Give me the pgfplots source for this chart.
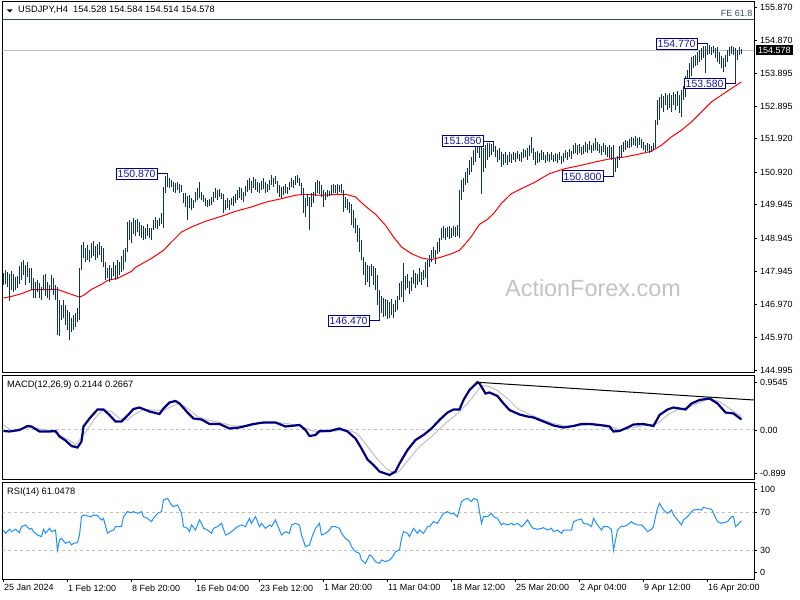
\documentclass[border=0pt]{standalone}
\usepackage{fontspec}
\setmainfont{Liberation Sans}
\usepackage{pgfplots}
\usepackage{pgfplotstable}
\pgfplotsset{compat=1.18}

\definecolor{barc}{RGB}{14,52,80}
\definecolor{navyb}{RGB}{0,0,128}
\definecolor{lbl}{RGB}{25,25,160}
\definecolor{dodger}{RGB}{30,144,255}
\definecolor{silverc}{RGB}{192,192,192}
\definecolor{fec}{RGB}{47,79,79}
\definecolor{wm}{RGB}{195,195,195}

\newcommand\lab{\fontsize{9}{10}\selectfont}

% high / low of each H4 bar
\pgfplotstableread[row sep=\\]{
h l\\
147.89 147.53\\ 147.98 147.56\\ 147.92 147.47\\ 147.86 147.05\\ 147.95 147.38\\ 147.86 147.32\\ 147.77 147.38\\ 147.80 147.44\\ 148.10 147.56\\ 148.22 147.68\\
148.28 147.83\\ 148.13 147.53\\ 148.22 147.77\\ 148.04 147.59\\ 148.04 147.38\\ 147.74 147.14\\ 147.62 147.14\\ 147.68 147.32\\ 147.59 147.14\\ 147.47 147.08\\
147.83 147.38\\ 147.86 147.20\\ 147.62 147.14\\ 147.53 147.08\\ 147.83 147.38\\ 147.74 147.23\\ 147.53 147.08\\ 147.47 146.03\\ 147.08 146.00\\ 146.93 146.48\\
147.08 146.54\\ 146.93 146.33\\ 146.78 146.18\\ 146.72 145.88\\ 146.54 146.12\\ 146.63 146.18\\ 146.69 146.27\\ 146.84 146.42\\ 148.04 146.48\\ 148.73 147.98\\
148.82 148.34\\ 148.64 148.22\\ 148.73 148.28\\ 148.58 148.22\\ 148.79 148.34\\ 148.85 148.40\\ 148.70 148.28\\ 148.76 148.34\\ 148.82 148.43\\ 148.70 148.22\\
148.64 148.07\\ 148.22 147.68\\ 148.04 147.74\\ 148.13 147.62\\ 148.04 147.68\\ 148.22 147.80\\ 148.13 147.68\\ 148.28 147.74\\ 148.22 147.83\\ 148.40 147.92\\
148.58 147.98\\ 148.64 148.22\\ 149.42 148.52\\ 149.48 148.88\\ 149.42 148.79\\ 149.54 149.06\\ 149.48 149.00\\ 149.51 149.12\\ 149.42 149.00\\ 149.33 148.94\\
149.30 148.88\\ 149.24 148.91\\ 149.36 149.00\\ 149.24 148.94\\ 149.24 148.88\\ 149.48 149.18\\ 149.57 149.24\\ 149.48 149.21\\ 149.54 149.30\\ 149.69 149.36\\
150.47 149.24\\ 150.80 150.29\\ 150.87 150.47\\ 150.74 150.44\\ 150.68 150.47\\ 150.62 150.32\\ 150.59 150.29\\ 150.62 150.38\\ 150.56 150.29\\ 150.53 150.32\\
150.29 149.99\\ 150.29 149.87\\ 150.20 149.48\\ 150.23 149.84\\ 150.14 149.78\\ 150.08 149.84\\ 150.32 150.02\\ 150.44 150.08\\ 150.62 150.14\\ 150.32 150.08\\
150.23 150.02\\ 150.14 149.90\\ 150.08 149.87\\ 150.11 149.90\\ 150.17 149.93\\ 150.32 150.02\\ 150.44 150.14\\ 150.38 150.08\\ 150.41 150.17\\ 150.29 150.11\\
150.26 149.69\\ 150.08 149.78\\ 150.14 149.84\\ 150.08 149.78\\ 150.14 149.93\\ 150.20 149.90\\ 150.26 149.99\\ 150.38 150.08\\ 150.47 150.14\\ 150.44 150.08\\
150.32 150.02\\ 150.50 150.20\\ 150.68 150.32\\ 150.74 150.38\\ 150.65 150.29\\ 150.77 150.44\\ 150.71 150.38\\ 150.62 150.32\\ 150.59 150.29\\ 150.65 150.38\\
150.74 150.41\\ 150.62 150.29\\ 150.56 150.32\\ 150.68 150.38\\ 150.83 150.53\\ 150.74 150.47\\ 150.80 150.56\\ 150.65 150.29\\ 150.53 150.17\\ 150.47 150.14\\
150.50 150.23\\ 150.56 150.29\\ 150.47 150.26\\ 150.62 150.38\\ 150.74 150.47\\ 150.68 150.44\\ 150.80 150.53\\ 150.83 150.59\\ 150.74 150.50\\ 150.59 150.23\\
150.44 149.69\\ 150.14 149.57\\ 150.26 149.90\\ 150.17 149.18\\ 150.29 149.87\\ 150.32 149.99\\ 150.62 150.20\\ 150.68 150.29\\ 150.65 150.26\\ 150.53 150.17\\
150.38 149.87\\ 150.32 150.08\\ 150.38 150.17\\ 150.35 150.20\\ 150.53 150.23\\ 150.56 150.29\\ 150.53 150.29\\ 150.56 150.26\\ 150.53 150.32\\ 150.56 150.29\\
150.38 149.72\\ 150.17 149.84\\ 150.11 149.78\\ 150.02 149.69\\ 149.96 149.33\\ 149.78 149.24\\ 149.54 149.09\\ 149.33 148.82\\ 149.24 148.52\\ 148.88 148.28\\
148.37 147.83\\ 148.22 147.53\\ 148.13 147.62\\ 148.10 147.47\\ 148.16 147.80\\ 148.10 147.53\\ 148.04 147.38\\ 147.83 146.93\\ 147.38 146.47\\ 147.20 146.69\\
147.14 146.57\\ 147.11 146.60\\ 147.08 146.51\\ 147.02 146.54\\ 147.11 146.63\\ 146.96 146.54\\ 147.08 146.72\\ 147.20 146.78\\ 147.59 147.08\\ 147.65 147.17\\
148.19 147.02\\ 147.80 147.38\\ 147.86 147.44\\ 147.65 147.26\\ 147.77 147.35\\ 147.98 147.56\\ 147.89 147.44\\ 147.86 147.53\\ 148.04 147.62\\ 147.92 147.53\\
147.98 147.68\\ 148.22 147.74\\ 148.28 147.47\\ 148.43 148.07\\ 148.58 148.22\\ 148.67 148.34\\ 148.58 148.16\\ 148.82 148.46\\ 148.94 148.52\\ 149.24 148.88\\
149.30 148.94\\ 149.24 148.88\\ 149.27 148.97\\ 149.30 148.91\\ 149.24 148.94\\ 149.30 149.00\\ 149.27 148.97\\ 149.33 149.00\\ 150.38 148.94\\ 150.68 150.08\\
150.74 150.32\\ 150.92 150.53\\ 151.04 150.59\\ 151.28 150.83\\ 151.37 150.92\\ 151.58 151.13\\ 151.67 151.22\\ 151.79 151.49\\ 151.70 151.34\\ 151.73 150.26\\
151.64 150.92\\ 151.73 151.04\\ 151.79 151.28\\ 151.79 151.37\\ 151.76 151.43\\ 151.85 151.52\\ 151.70 151.37\\ 151.58 151.22\\ 151.64 151.28\\ 151.52 151.07\\
151.46 151.13\\ 151.52 151.19\\ 151.43 151.13\\ 151.52 151.22\\ 151.46 151.19\\ 151.52 151.28\\ 151.49 151.22\\ 151.55 151.31\\ 151.46 151.25\\ 151.52 151.22\\
151.61 151.34\\ 151.58 151.37\\ 151.64 151.28\\ 151.73 151.40\\ 151.97 151.49\\ 151.64 151.28\\ 151.52 151.13\\ 151.55 151.19\\ 151.49 151.22\\ 151.58 151.28\\
151.52 151.28\\ 151.43 151.19\\ 151.52 151.25\\ 151.46 151.22\\ 151.52 151.28\\ 151.43 151.22\\ 151.49 151.25\\ 151.46 151.19\\ 151.52 151.28\\ 151.40 151.16\\
151.49 151.22\\ 151.58 151.34\\ 151.52 151.28\\ 151.61 151.37\\ 151.55 151.31\\ 151.73 151.46\\ 151.79 151.49\\ 151.73 151.43\\ 151.76 151.49\\ 151.67 151.43\\
151.73 151.46\\ 151.82 151.52\\ 151.76 151.49\\ 151.85 151.58\\ 151.73 151.49\\ 151.79 151.55\\ 151.94 151.58\\ 151.82 151.55\\ 151.76 151.49\\ 151.70 151.43\\
151.79 151.52\\ 151.73 151.43\\ 151.67 151.37\\ 151.73 151.34\\ 151.67 151.28\\ 151.73 150.80\\ 151.34 150.92\\ 151.40 151.04\\ 151.70 151.28\\ 151.73 151.34\\
151.82 151.52\\ 151.88 151.58\\ 151.85 151.64\\ 151.91 151.64\\ 151.97 151.67\\ 151.94 151.73\\ 152.00 151.70\\ 151.94 151.64\\ 151.97 151.73\\ 151.91 151.64\\
151.82 151.58\\ 151.73 151.52\\ 151.79 151.55\\ 151.76 151.49\\ 151.70 151.52\\ 151.79 151.58\\ 152.48 151.64\\ 153.08 152.33\\ 153.17 152.48\\ 153.26 152.84\\
153.20 152.72\\ 153.29 152.93\\ 153.23 152.78\\ 153.29 152.84\\ 153.23 152.72\\ 153.32 152.93\\ 153.26 152.78\\ 153.35 152.90\\ 153.23 152.69\\ 153.38 152.57\\
153.50 153.08\\ 153.80 153.17\\ 153.98 153.44\\ 154.19 153.68\\ 154.37 153.80\\ 154.40 154.04\\ 154.43 154.10\\ 154.52 154.13\\ 154.58 154.22\\ 154.64 154.28\\
154.70 154.34\\ 154.70 153.89\\ 154.77 154.43\\ 154.73 154.46\\ 154.67 154.43\\ 154.70 154.49\\ 154.64 154.34\\ 154.67 154.22\\ 154.52 154.16\\ 154.40 154.04\\
154.34 153.92\\ 154.43 154.07\\ 154.58 154.22\\ 154.67 154.40\\ 154.70 154.46\\ 154.67 154.43\\ 154.64 153.58\\ 154.58 154.28\\ 154.67 154.43\\ 154.61 154.46\\
}\bars

\pgfplotsset{
  panel/.style={
    scale only axis, width=751.5bp, anchor=south west,
    xmin=-0.5, xmax=375.25,
    axis line style={black, line width=1bp},
    xtick=\empty,
    ytick pos=right, yticklabel pos=right,
    tick align=outside, major tick length=3bp,
    tick style={black, line width=0.8bp},
    yticklabel style={font=\lab, anchor=west, inner sep=0pt, xshift=3bp},
  },
}
\tikzset{
  anno/.style={draw=navyb, line width=1bp, fill=white, text=lbl,
    font=\fontsize{10.5}{11}\selectfont, inner xsep=1.5bp, inner ysep=1.6bp,
    text height=7.6bp, text depth=0pt, anchor=east},
}

\begin{document}
\begin{tikzpicture}
\path[use as bounding box, fill=white] (0,0) rectangle (800bp,600bp);

\node[text=wm, font=\fontsize{23.5}{25}\selectfont, inner sep=0pt] at (593bp,311.5bp) {ActionForex.com};

% price window
\begin{axis}[panel, at={(2.5bp,227bp)}, height=371bp, ymin=144.905, ymax=156.02,
  ytick={144.995,145.970,146.970,147.945,148.945,149.945,150.920,151.920,152.895,153.895,154.870,155.870},
  yticklabels={144.995,145.970,146.970,147.945,148.945,149.945,150.920,151.920,152.895,153.895,154.870,155.870}]
\addplot[silverc, line width=1bp] coordinates {(-1,154.578) (377,154.578)};
\addplot[fec, line width=1bp] coordinates {(-1,155.51) (377,155.51)};
\addplot[red, line width=1bp] coordinates {
(0,147.15)(4,147.20)(9,147.28)(14,147.40)(20,147.40)(27,147.41)(32,147.30)(38,147.18)(40,147.23)
(44,147.41)(49,147.56)(52,147.68)(57,147.74)(64,147.95)(66,148.07)(74,148.34)(80,148.58)(84,148.83)
(89,149.13)(94,149.28)(101,149.45)(109,149.60)(116,149.75)(124,149.88)(131,150.02)(139,150.13)
(146,150.23)(151,150.26)(158,150.23)(166,150.25)(171,150.26)(176,150.18)(181,149.90)(186,149.66)
(191,149.33)(195,148.98)(199,148.68)(204,148.48)(209,148.35)(214,148.30)(219,148.38)(224,148.48)
(228,148.58)(231,148.78)(234,149.00)(238,149.36)(242,149.51)(245,149.68)(249,149.99)(254,150.28)
(259,150.43)(266,150.63)(273,150.88)(281,151.03)(289,151.13)(296,151.23)(304,151.33)(311,151.38)
(319,151.48)(324,151.55)(329,151.73)(334,151.98)(339,152.18)(344,152.43)(349,152.73)(354,153.03)
(359,153.23)(364,153.43)(369,153.63)};
\addplot[draw=none, mark=none, error bars/.cd, y dir=plus, y explicit, error mark=none,
  error bar style={draw=barc, line width=1bp}]
  table[x expr=\coordindex, y=l, y error expr=\thisrow{h}-\thisrow{l}] {\bars};
\draw[navyb, line width=1bp] (axis cs:77,150.87) -- (axis cs:82,150.87);
\node[anno] at (axis cs:77,150.87) {150.870};
\draw[navyb, line width=1bp] (axis cs:183,146.47) -- (axis cs:188,146.47);
\node[anno] at (axis cs:183,146.47) {146.470};
\draw[navyb, line width=1bp] (axis cs:240,151.85) -- (axis cs:245,151.85);
\node[anno] at (axis cs:240,151.85) {151.850};
\draw[navyb, line width=1bp] (axis cs:300,150.80) -- (axis cs:305,150.80);
\node[anno] at (axis cs:300,150.80) {150.800};
\draw[navyb, line width=1bp] (axis cs:347,154.77) -- (axis cs:352,154.77);
\node[anno] at (axis cs:347,154.77) {154.770};
\draw[navyb, line width=1bp] (axis cs:361,153.58) -- (axis cs:366,153.58);
\node[anno] at (axis cs:361,153.58) {153.580};
\end{axis}

% MACD window
\begin{axis}[panel, at={(2.5bp,120bp)}, height=104bp, ymin=-1.0, ymax=1.08,
  ytick={-0.86,0,0.9545}, yticklabels={-0.899,0.00,0.9545}]
\addplot[silverc, line width=1bp, dash pattern=on 3bp off 3bp] coordinates {(-1,0) (377,0)};
\addplot[silverc, line width=1bp] coordinates {
(0,0.10)(4,-0.01)(12,0.05)(17,0.03)(24,-0.02)(28,-0.10)(34,-0.23)(36,-0.30)(40,-0.10)(44,0.13)
(47,0.30)(50,0.40)(54,0.37)(58,0.23)(62,0.20)(65,0.30)(70,0.41)(75,0.40)(80,0.39)(84,0.47)(88,0.53)
(92,0.43)(97,0.27)(102,0.20)(108,0.15)(115,0.08)(122,0.08)(128,0.13)(137,0.15)(143,0.12)(148,0.09)
(153,0.00)(158,-0.05)(165,-0.02)(172,0.00)(177,-0.07)(182,-0.33)(187,-0.59)(192,-0.79)(196,-0.87)
(198,-0.82)(203,-0.57)(208,-0.33)(215,-0.10)(220,0.10)(227,0.33)(232,0.53)(236,0.73)(239,0.89)
(243,0.87)(247,0.79)(252,0.63)(257,0.43)(262,0.33)(268,0.23)(275,0.13)(282,0.07)(288,0.09)(295,0.12)
(302,0.10)(308,0.00)(315,0.05)(322,0.10)(327,0.13)(332,0.30)(337,0.41)(342,0.45)(347,0.53)(353,0.63)
(358,0.57)(363,0.43)(369,0.27)};
\addplot[navyb, line width=2.2bp] coordinates {
(0,-0.02)(3,-0.03)(8,0.00)(12,0.08)(14,0.07)(18,-0.03)(23,-0.03)(26,-0.02)(28,-0.13)(31,-0.21)
(34,-0.32)(37,-0.35)(39,-0.23)(40,0.07)(43,0.23)(47,0.41)(50,0.41)(53,0.30)(56,0.17)(59,0.17)(63,0.33)
(65,0.42)(68,0.45)(73,0.37)(78,0.32)(80,0.43)(83,0.55)(86,0.58)(88,0.53)(92,0.35)(95,0.23)(99,0.21)
(103,0.12)(108,0.12)(113,0.03)(118,0.05)(125,0.12)(130,0.15)(136,0.15)(141,0.07)(148,0.10)(151,0.00)
(153,-0.12)(156,-0.10)(158,-0.02)(163,-0.02)(168,0.03)(172,-0.03)(176,-0.17)(179,-0.37)(182,-0.59)
(185,-0.70)(188,-0.83)(193,-0.90)(196,-0.83)(198,-0.67)(202,-0.40)(206,-0.20)(210,-0.10)(214,0.03)
(218,0.20)(222,0.35)(225,0.41)(228,0.41)(230,0.60)(233,0.80)(237,0.9545)(238,0.93)(241,0.73)(243,0.75)
(247,0.68)(250,0.53)(253,0.40)(258,0.31)(262,0.27)(265,0.25)(270,0.17)(275,0.09)(280,0.05)(285,0.08)
(289,0.12)(293,0.12)(298,0.10)(303,0.07)(305,-0.03)(308,-0.02)(312,0.05)(315,0.11)(320,0.12)(325,0.08)
(328,0.30)(332,0.41)(335,0.45)(338,0.43)(341,0.41)(344,0.53)(348,0.60)(353,0.63)(357,0.53)(361,0.35)
(365,0.33)(369,0.21)};
\addplot[black, line width=1bp] coordinates {(237,0.9545) (375.25,0.60)};
\end{axis}

% RSI window
\begin{axis}[panel, at={(2.5bp,21bp)}, height=96bp, ymin=-0.74, ymax=101.1,
  ytick={6.4,30,70,94.4}, yticklabels={0,30,70,100},
  xtick={0,32,64,96,128,160,192,224,256,288,320,352},
  xticklabels={25 Jan 2024,1 Feb 12:00,8 Feb 20:00,16 Feb 04:00,23 Feb 12:00,1 Mar 20:00,
    11 Mar 04:00,18 Mar 12:00,25 Mar 20:00,2 Apr 04:00,9 Apr 12:00,16 Apr 20:00},
  xtick pos=left,
  xticklabel style={font=\lab, anchor=north west, inner sep=0pt, xshift=0.5bp, yshift=-2.5bp}]
\addplot[silverc, line width=1bp, dash pattern=on 3bp off 3bp] coordinates {(-1,70) (377,70)};
\addplot[silverc, line width=1bp, dash pattern=on 3bp off 3bp] coordinates {(-1,30) (377,30)};
\addplot[dodger, line width=1bp] coordinates {
(0,51.2)(1,47.7)(3,52.0)(4,49.5)(6,52.0)(8,48.4)(9,54.8)(11,56.6)(13,52.0)(14,53.0)(15,49.5)(17,45.9)
(19,44.2)(20,52.0)(21,47.7)(23,53.0)(24,49.5)(26,51.2)(27,30.0)(28,40.6)(29,42.4)(31,37.1)(33,38.9)
(34,35.3)(35,37.1)(37,37.8)(38,45.9)(39,65.4)(40,67.2)(42,66.1)(44,65.4)(45,67.2)(47,66.5)(49,61.9)
(50,63.6)(52,47.7)(53,49.5)(55,51.2)(56,54.8)(59,54.8)(60,65.4)(62,70.7)(64,69.6)(65,70.7)(67,68.9)
(69,70.7)(70,65.4)(72,63.6)(74,60.1)(75,63.6)(77,68.9)(79,70.7)(80,83.1)(82,84.8)(84,77.8)(85,76.0)
(87,77.8)(89,68.9)(90,54.8)(92,53.0)(93,49.5)(94,56.6)(96,51.2)(98,61.9)(99,58.3)(100,53.0)(102,51.2)
(104,47.7)(105,53.0)(107,54.8)(109,58.3)(110,52.0)(111,45.9)(113,47.7)(114,49.5)(117,54.8)(119,56.6)
(121,54.8)(123,63.6)(124,58.3)(126,65.4)(128,54.8)(129,58.3)(131,53.0)(133,56.6)(134,54.8)(136,61.9)
(138,51.2)(139,45.9)(141,49.5)(143,47.7)(144,56.6)(146,58.3)(148,56.6)(149,45.9)(151,33.6)(153,35.3)
(154,42.4)(156,53.0)(158,58.3)(159,45.9)(161,47.7)(163,51.2)(164,54.8)(166,54.8)(168,53.0)(169,47.7)
(171,42.4)(173,38.9)(174,33.6)(176,28.3)(178,26.5)(179,19.4)(181,15.9)(183,24.7)(184,23.7)(186,17.6)
(188,15.9)(189,19.4)(191,17.6)(193,19.4)(194,21.2)(196,28.3)(198,30.0)(199,42.4)(200,49.5)(202,47.7)
(203,44.2)(205,53.0)(207,47.7)(208,51.2)(210,47.7)(212,54.8)(213,54.8)(215,60.1)(217,58.3)(219,65.4)
(220,68.9)(222,70.7)(224,68.2)(225,68.9)(227,65.4)(229,81.3)(230,83.1)(232,84.8)(234,81.3)(235,84.8)
(237,83.1)(239,58.3)(240,65.4)(242,65.4)(244,68.9)(245,65.4)(247,63.6)(249,56.6)(250,58.3)(252,56.6)
(254,58.3)(255,56.6)(257,58.3)(259,54.8)(260,56.6)(262,61.9)(264,54.8)(265,53.0)(267,52.0)(269,53.0)
(270,53.7)(272,51.2)(274,53.0)(275,49.5)(277,51.2)(279,47.7)(280,51.2)(282,51.2)(284,51.2)(285,60.1)
(287,61.9)(289,62.9)(290,58.3)(292,57.6)(294,54.8)(295,63.6)(297,56.6)(299,51.2)(300,54.8)(302,54.8)
(304,52.0)(305,30.0)(307,51.2)(309,55.5)(310,54.8)(312,56.6)(314,60.1)(315,58.3)(317,56.6)(319,56.6)
(320,54.8)(322,49.5)(324,52.0)(325,54.8)(326,65.4)(327,74.2)(328,79.5)(330,72.5)(332,68.9)(334,72.5)
(335,67.2)(337,61.9)(339,56.6)(340,61.9)(342,65.4)(344,70.7)(345,72.5)(347,73.2)(349,72.5)(350,75.3)
(352,74.2)(354,73.2)(355,68.9)(357,60.1)(359,58.3)(360,59.0)(362,60.1)(364,65.4)(365,65.4)(366,54.8)
(367,56.6)(369,61.0)};
\end{axis}

% texts drawn by the terminal
\fill (6.7bp,590.7bp) -- (12.7bp,590.7bp) -- (9.7bp,587.5bp) -- cycle;
\node[anchor=west, inner sep=0pt, font=\fontsize{9.3}{10}\selectfont] at (18bp,589.7bp)
  {USDJPY,H4\ \ 154.528 154.584 154.514 154.578};
\node[anchor=east, inner sep=0pt, text=fec, font=\lab] at (752.5bp,586.7bp) {FE 61.8};
\node[anchor=west, fill=black, text=white, font=\lab, inner xsep=2.5bp, inner ysep=1.5bp,
  text height=6.5bp, text depth=0pt] at (755.5bp,550bp) {154.578};
\node[anchor=west, inner sep=0pt, font=\fontsize{9.3}{10}\selectfont] at (7bp,215bp)
  {MACD(12,26,9) 0.2144 0.2667};
\node[anchor=west, inner sep=0pt, font=\fontsize{9.3}{10}\selectfont] at (7bp,108.3bp)
  {RSI(14) 61.0478};
\end{tikzpicture}
\end{document}
